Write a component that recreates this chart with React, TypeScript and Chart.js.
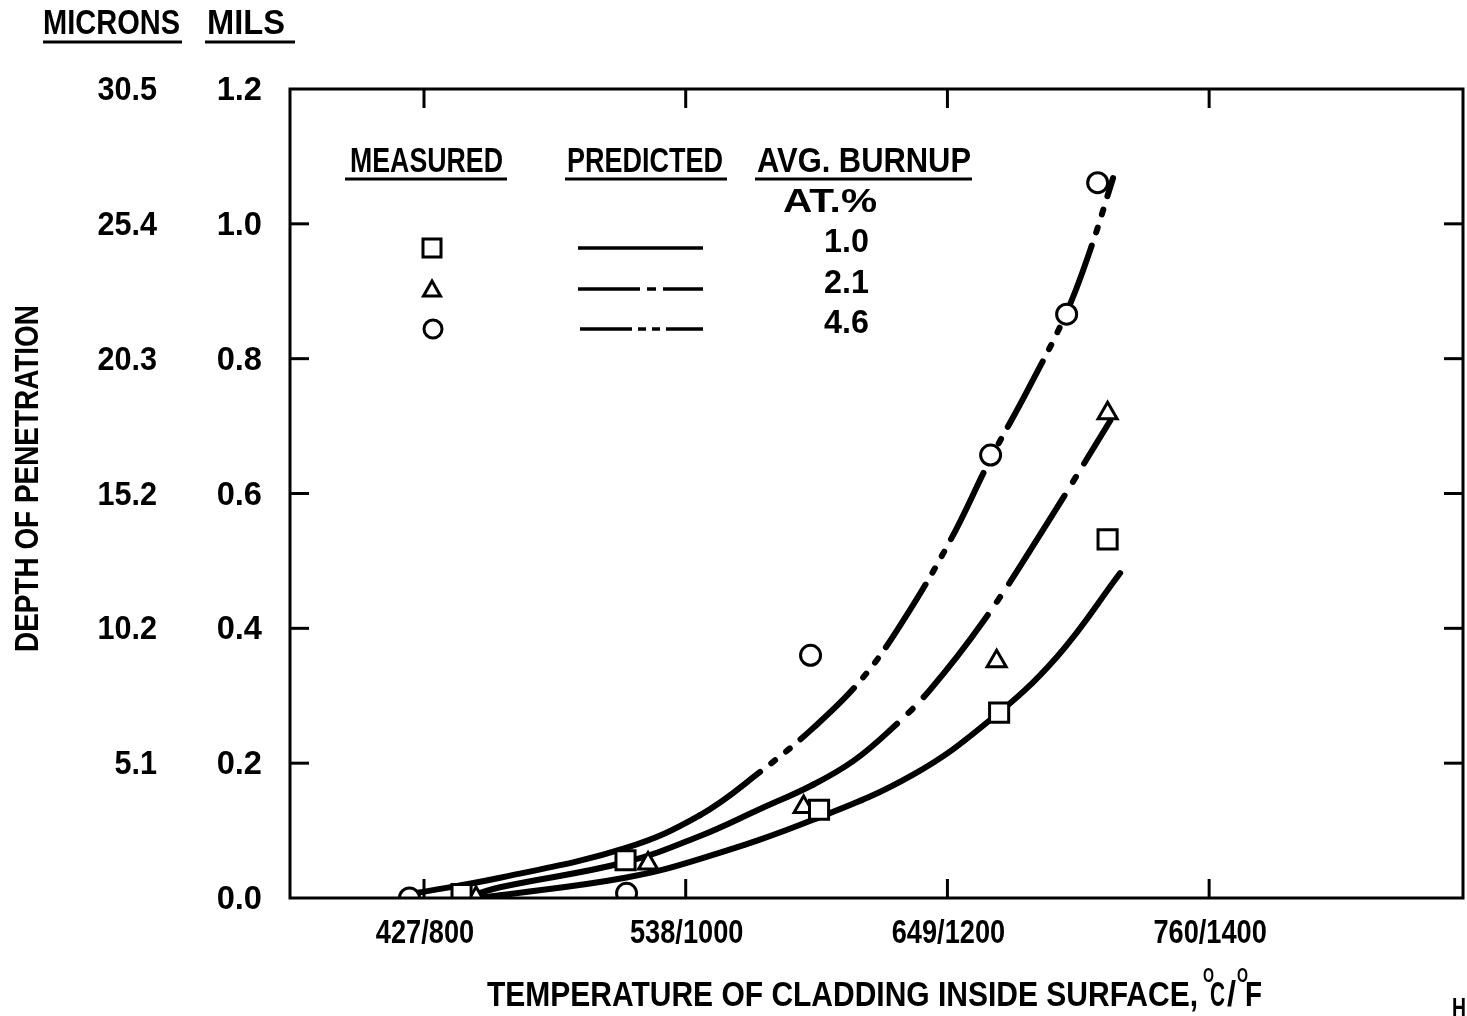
import React, { useEffect, useRef } from 'react';
import { Chart, registerables } from 'chart.js';

Chart.register(...registerables);

const INK = '#000000';
const FONT = '"Liberation Sans", Arial, "DejaVu Sans", sans-serif';

// ---------- axis ticks ----------
const tempTicksF = [800, 1000, 1200, 1400];
const tempTickLabels = ['427/800', '538/1000', '649/1200', '760/1400'];
const milsTicks = [0, 0.2, 0.4, 0.6, 0.8, 1.0, 1.2];
const milsTickLabels = ['0.0', '0.2', '0.4', '0.6', '0.8', '1.0', '1.2'];
const micronTickLabels = ['', '5.1', '10.2', '15.2', '20.3', '25.4', '30.5'];

// ---------- legend ----------
const burnupLabels = ['1.0', '2.1', '4.6'];

// ---------- measured points (temperature °F, depth mils) ----------
const measured10X = [828.7, 954.0, 1101.9, 1239.5, 1322.4];
const measured10Y = [0.006, 0.056, 0.131, 0.275, 0.532];
const measured21X = [839.8, 971.2, 1090.1, 1237.6, 1322.4];
const measured21Y = [0.0, 0.051, 0.135, 0.351, 0.719];
const measured46X = [788.9, 954.8, 1095.4, 1233.0, 1291.1, 1314.8];
const measured46Y = [0.0, 0.007, 0.36, 0.657, 0.866, 1.061];

// ---------- predicted curves ----------
const predicted10X = [842.8, 858.1, 953.7, 1011.0, 1097.3, 1173.8, 1232.6, 1283.8, 1332.0];
const predicted10Y = [0.001, 0.004, 0.03, 0.058, 0.116, 0.183, 0.264, 0.358, 0.482];
const predicted21X = [835.2, 858.1, 953.7, 1011.0, 1056.8, 1097.3, 1127.9, 1156.2, 1186.8, 1227.3, 1273.1, 1324.4];
const predicted21Y = [0.003, 0.016, 0.053, 0.092, 0.132, 0.168, 0.203, 0.249, 0.309, 0.41, 0.546, 0.708];
const predicted46X = [793.1, 858.1, 953.7, 1011.0, 1056.8, 1097.3, 1133.3, 1163.8, 1202.1, 1232.6, 1260.9, 1290.7, 1309.1, 1326.6];
const predicted46Y = [0.007, 0.03, 0.074, 0.123, 0.187, 0.252, 0.322, 0.404, 0.53, 0.65, 0.752, 0.867, 0.961, 1.068];

const DASH_21 = [104, 16, 6, 16];
const DASH_46 = [74, 14, 5, 14, 5, 14];

function pts(xs: number[], ys: number[]) {
  return xs.map((x, i) => ({ x, y: ys[i] }));
}

// draws text squeezed horizontally: either by a factor sx or to a target width w
function drawText(
  ctx: CanvasRenderingContext2D,
  s: string,
  x: number,
  y: number,
  size: number,
  fit: { sx?: number; w?: number },
  align: 'left' | 'center' | 'right' = 'left'
) {
  ctx.save();
  ctx.font = `bold ${size}px ${FONT}`;
  ctx.textAlign = 'left';
  ctx.textBaseline = 'alphabetic';
  const nat = ctx.measureText(s).width;
  const sx = fit.w ? fit.w / nat : fit.sx || 1;
  const w = nat * sx;
  const x0 = align === 'left' ? x : align === 'center' ? x - w / 2 : x - w;
  ctx.translate(x0, y);
  ctx.scale(sx, 1);
  ctx.fillText(s, 0, 0);
  ctx.restore();
}

function seg(ctx: CanvasRenderingContext2D, x1: number, y1: number, x2: number, y2: number) {
  ctx.beginPath();
  ctx.moveTo(x1, y1);
  ctx.lineTo(x2, y2);
  ctx.stroke();
}

const paperPlugin = {
  id: 'paper',
  beforeDraw(chart: any) {
    const ctx = chart.ctx as CanvasRenderingContext2D;
    ctx.save();
    ctx.fillStyle = '#ffffff';
    ctx.fillRect(0, 0, chart.width, chart.height);
    ctx.restore();
  },
  afterDraw(chart: any) {
    const ctx = chart.ctx as CanvasRenderingContext2D;
    const a = chart.chartArea;
    const xs = chart.scales.x;
    const ys = chart.scales.y;
    ctx.save();
    ctx.strokeStyle = INK;
    ctx.fillStyle = INK;
    ctx.lineCap = 'butt';

    // frame
    ctx.lineWidth = 3;
    ctx.strokeRect(a.left, a.top, a.right - a.left, a.bottom - a.top);

    // inward tick marks on all sides
    const T = 19;
    tempTicksF.forEach((v) => {
      const px = xs.getPixelForValue(v);
      seg(ctx, px, a.bottom, px, a.bottom - T);
      seg(ctx, px, a.top, px, a.top + T);
    });
    milsTicks.forEach((v) => {
      if (v <= 0 || v >= 1.2) return;
      const py = ys.getPixelForValue(v);
      seg(ctx, a.left, py, a.left + T, py);
      seg(ctx, a.right, py, a.right - T, py);
    });

    // x tick labels
    tempTicksF.forEach((v, i) => {
      const px = xs.getPixelForValue(v);
      drawText(ctx, tempTickLabels[i], px + 1, 943, 34, { sx: 0.8 }, 'center');
    });

    // y tick labels (mils and microns)
    milsTicks.forEach((v, i) => {
      const py = ys.getPixelForValue(v);
      drawText(ctx, milsTickLabels[i], 262, py + 11, 34, { sx: 0.96 }, 'right');
      if (micronTickLabels[i]) drawText(ctx, micronTickLabels[i], 157, py + 11, 34, { sx: 0.9 }, 'right');
    });

    // column headers
    drawText(ctx, 'MICRONS', 111.5, 34, 35, { w: 137 }, 'center');
    drawText(ctx, 'MILS', 246, 34, 35, { w: 78 }, 'center');
    ctx.lineWidth = 3;
    seg(ctx, 43, 42, 182, 42);
    seg(ctx, 205, 42, 295, 42);

    // y title
    ctx.save();
    ctx.translate(26, 478.5);
    ctx.rotate(-Math.PI / 2);
    drawText(ctx, 'DEPTH OF PENETRATION', 0, 12, 34, { w: 347 }, 'center');
    ctx.restore();

    // x title
    drawText(ctx, 'TEMPERATURE OF CLADDING INSIDE SURFACE,', 487, 1006, 35, { w: 711 }, 'left');
    drawText(ctx, 'C', 1210, 1006, 35, { w: 15 }, 'left');
    drawText(ctx, '/', 1227, 1006, 35, { w: 9 }, 'left');
    drawText(ctx, 'F', 1245, 1006, 35, { w: 17 }, 'left');
    drawText(ctx, 'O', 1203, 982, 20, { w: 11 }, 'left');
    drawText(ctx, 'O', 1237, 982, 20, { w: 11 }, 'left');

    // corner mark
    drawText(ctx, 'H', 1452, 1017, 28, { w: 14 }, 'left');

    // legend headers
    drawText(ctx, 'MEASURED', 426.5, 172, 35, { w: 153 }, 'center');
    drawText(ctx, 'PREDICTED', 645, 172, 35, { w: 156 }, 'center');
    drawText(ctx, 'AVG. BURNUP', 864, 172, 35, { w: 214 }, 'center');
    seg(ctx, 345, 179, 507, 179);
    seg(ctx, 565, 179, 727, 179);
    seg(ctx, 755, 179, 972, 179);
    drawText(ctx, 'AT.%', 830, 212, 34, { w: 94 }, 'center');

    const rowY = [248, 289, 329];
    burnupLabels.forEach((s, i) => {
      drawText(ctx, s, 869, rowY[i] + 4, 34, { sx: 0.95 }, 'right');
    });

    // legend symbols
    ctx.lineWidth = 3;
    ctx.fillStyle = '#ffffff';
    ctx.beginPath();
    ctx.rect(423, 239, 18, 18);
    ctx.fill();
    ctx.stroke();
    ctx.beginPath();
    ctx.moveTo(432, 281);
    ctx.lineTo(440.5, 296);
    ctx.lineTo(423.5, 296);
    ctx.closePath();
    ctx.fill();
    ctx.stroke();
    ctx.beginPath();
    ctx.arc(433, 329, 9, 0, Math.PI * 2);
    ctx.fill();
    ctx.stroke();

    // legend line samples
    ctx.lineWidth = 3.5;
    ctx.setLineDash([]);
    seg(ctx, 578, 248, 703, 248);
    ctx.setLineDash([62, 7, 9, 7, 60]);
    seg(ctx, 578, 289, 703, 289);
    ctx.setLineDash([52, 6, 8, 6, 8, 6, 60]);
    seg(ctx, 580, 329, 703, 329);
    ctx.setLineDash([]);

    ctx.restore();
  },
};

export default function App() {
  const ref = useRef<HTMLCanvasElement | null>(null);

  useEffect(() => {
    if (!ref.current) return;
    const markerBase = {
      type: 'scatter' as const,
      showLine: false,
      pointBackgroundColor: '#ffffff',
      pointBorderColor: INK,
      pointBorderWidth: 3,
      clip: 0,
      order: 0,
    };
    const curveBase = {
      type: 'line' as const,
      borderColor: INK,
      borderWidth: 6,
      pointRadius: 0,
      fill: false,
      tension: 0.4,
      borderCapStyle: 'round' as const,
      borderJoinStyle: 'round' as const,
      clip: 0,
      order: 1,
    };
    const chart = new Chart(ref.current, {
      type: 'scatter',
      data: {
        datasets: [
          { ...markerBase, label: 'Measured 1.0', data: pts(measured10X, measured10Y), pointStyle: 'rect', pointRadius: 13.5 },
          { ...markerBase, label: 'Measured 2.1', data: pts(measured21X, measured21Y), pointStyle: 'triangle', pointRadius: 11 },
          { ...markerBase, label: 'Measured 4.6', data: pts(measured46X, measured46Y), pointStyle: 'circle', pointRadius: 10 },
          { ...curveBase, label: 'Predicted 1.0', data: pts(predicted10X, predicted10Y) },
          {
            ...curveBase,
            label: 'Predicted 2.1',
            data: pts(predicted21X, predicted21Y),
            segment: { borderDash: (c: any) => (c.p0.parsed.x >= 1097 ? DASH_21 : undefined) },
          },
          {
            ...curveBase,
            label: 'Predicted 4.6',
            data: pts(predicted46X, predicted46Y),
            segment: { borderDash: (c: any) => (c.p0.parsed.x >= 1011 ? DASH_46 : undefined) },
          },
        ] as any,
      },
      options: {
        animation: false,
        responsive: false,
        maintainAspectRatio: false,
        devicePixelRatio: 1,
        events: [],
        layout: { autoPadding: false, padding: { left: 290, right: 4, top: 89, bottom: 118 } },
        plugins: { legend: { display: false }, tooltip: { enabled: false }, title: { display: false } },
        scales: {
          x: { type: 'linear', min: 697.6, max: 1594, display: false },
          y: { type: 'linear', min: 0, max: 1.2, display: false },
        },
      } as any,
      plugins: [paperPlugin],
    });
    return () => chart.destroy();
  }, []);

  return (
    <div style={{ position: 'fixed', left: 0, top: 0, width: 1467, height: 1016, background: '#fff' }}>
      <canvas ref={ref} width={1467} height={1016} style={{ display: 'block', width: 1467, height: 1016 }} />
    </div>
  );
}
